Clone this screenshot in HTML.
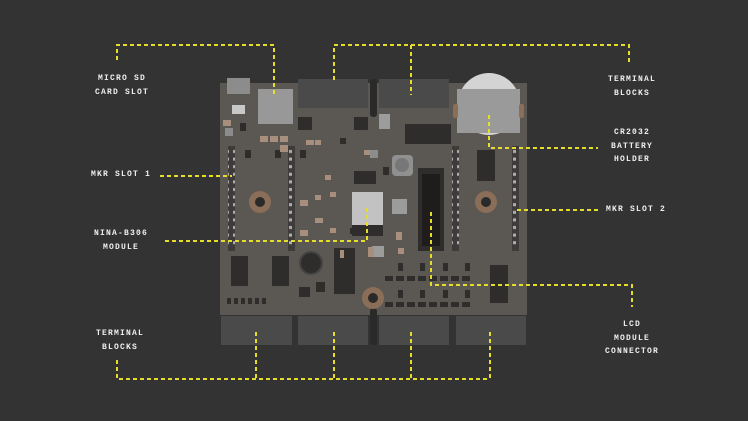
<!DOCTYPE html>
<html><head><style>
html,body{margin:0;padding:0;background:#333333;width:748px;height:421px;overflow:hidden}
.t{position:absolute;color:#f0f0f0;font-family:"Liberation Mono",monospace;font-weight:bold;font-size:8px;letter-spacing:1.2px;text-align:center;line-height:13.5px;white-space:nowrap}
</style></head><body>
<svg width="748" height="421" style="position:absolute;left:0;top:0">
<defs>
<pattern id="pins" x="0" y="148" width="7" height="7.6" patternUnits="userSpaceOnUse"><rect x="2" y="2" width="3" height="3" fill="#b0aeaa"/></pattern>
</defs>
<rect x="220" y="83" width="307" height="232" fill="#5b5854"/>
<rect x="298" y="79" width="70" height="29" fill="#4b4a4a"/>
<rect x="379" y="79" width="70" height="29" fill="#4b4a4a"/>
<rect x="370" y="79" width="7" height="38" rx="3" fill="#2a2a2a"/>
<rect x="221" y="316" width="71" height="29" fill="#4b4a4a"/>
<rect x="298" y="316" width="70" height="29" fill="#4b4a4a"/>
<rect x="379" y="316" width="70" height="29" fill="#4b4a4a"/>
<rect x="456" y="316" width="70" height="29" fill="#4b4a4a"/>
<rect x="370" y="308" width="7" height="37" rx="3" fill="#2a2a2a"/>
<rect x="227" y="78" width="23" height="16" fill="#8c8c8c"/>
<rect x="258" y="89" width="35" height="35" fill="#989898"/>
<rect x="232" y="105" width="13" height="9" fill="#c8c8c8"/>
<g fill="#3e3c3a">
<rect x="228" y="146" width="7" height="105"/><rect x="288" y="146" width="7" height="105"/>
<rect x="452" y="146" width="7" height="105"/><rect x="512" y="146" width="7" height="105"/>
</g>
<g fill="url(#pins)">
<rect x="228" y="148" width="7" height="100"/><rect x="288" y="148" width="7" height="100"/>
<rect x="452" y="148" width="7" height="100"/><rect x="512" y="148" width="7" height="100"/>
</g>
<circle cx="260" cy="202" r="11" fill="#8a6e58"/><circle cx="260" cy="202" r="5" fill="#2a2a2a"/>
<circle cx="486" cy="202" r="11" fill="#8a6e58"/><circle cx="486" cy="202" r="5" fill="#2a2a2a"/>
<circle cx="373" cy="298" r="11" fill="#8a6e58"/><circle cx="373" cy="298" r="5" fill="#2a2a2a"/>
<circle cx="489" cy="104" r="31" fill="#d4d4d4"/>
<rect x="457" y="89" width="63" height="44" fill="#9a9a9a"/>
<rect x="453" y="104" width="5" height="14" rx="2" fill="#8a6e58"/><rect x="519" y="104" width="5" height="14" rx="2" fill="#8a6e58"/>
<g fill="#2e2d2b">
<rect x="298" y="117" width="14" height="13"/><rect x="354" y="117" width="14" height="13"/>
<rect x="405" y="124" width="46" height="20"/>
<rect x="477" y="150" width="18" height="31"/>
<rect x="354" y="171" width="22" height="13"/>
<rect x="418" y="168" width="26" height="83"/>
<rect x="231" y="256" width="17" height="30"/><rect x="272" y="256" width="17" height="30"/>
<rect x="334" y="248" width="21" height="46"/>
<rect x="299" y="287" width="11" height="10"/><rect x="316" y="282" width="9" height="10"/>
<rect x="227" y="298" width="4" height="6"/><rect x="234" y="298" width="4" height="6"/><rect x="241" y="298" width="4" height="6"/><rect x="248" y="298" width="4" height="6"/><rect x="255" y="298" width="4" height="6"/><rect x="262" y="298" width="4" height="6"/>
<rect x="385" y="276" width="8" height="5"/><rect x="396" y="276" width="8" height="5"/><rect x="407" y="276" width="8" height="5"/><rect x="418" y="276" width="8" height="5"/><rect x="429" y="276" width="8" height="5"/><rect x="440" y="276" width="8" height="5"/><rect x="451" y="276" width="8" height="5"/><rect x="462" y="276" width="8" height="5"/>
<rect x="385" y="302" width="8" height="5"/><rect x="396" y="302" width="8" height="5"/><rect x="407" y="302" width="8" height="5"/><rect x="418" y="302" width="8" height="5"/><rect x="429" y="302" width="8" height="5"/><rect x="440" y="302" width="8" height="5"/><rect x="451" y="302" width="8" height="5"/><rect x="462" y="302" width="8" height="5"/>
<rect x="398" y="263" width="5" height="8"/><rect x="420" y="263" width="5" height="8"/><rect x="443" y="263" width="5" height="8"/><rect x="465" y="263" width="5" height="8"/>
<rect x="398" y="290" width="5" height="8"/><rect x="420" y="290" width="5" height="8"/><rect x="443" y="290" width="5" height="8"/><rect x="465" y="290" width="5" height="8"/>
<rect x="490" y="265" width="18" height="38"/>
<rect x="245" y="150" width="6" height="8"/><rect x="275" y="150" width="6" height="8"/>
<rect x="383" y="167" width="6" height="8"/><rect x="350" y="228" width="6" height="6"/>
<rect x="240" y="123" width="6" height="8"/><rect x="300" y="150" width="6" height="8"/><rect x="340" y="138" width="6" height="6"/>
</g>
<rect x="422" y="174" width="18" height="72" fill="#1e1d1c"/>
<rect x="352" y="192" width="31" height="33" fill="#c2c2c2"/>
<rect x="352" y="225" width="31" height="11" fill="#2e2d2b"/>
<rect x="392" y="199" width="15" height="15" fill="#9c9c9c"/>
<rect x="379" y="114" width="11" height="15" fill="#9c9c9c"/>
<rect x="225" y="128" width="8" height="8" fill="#8c8c8c"/>
<rect x="370" y="150" width="8" height="8" fill="#8c8c8c"/>
<rect x="392" y="155" width="21" height="21" rx="4" fill="#909090"/><circle cx="402" cy="165" r="7" fill="#777"/>
<rect x="372" y="246" width="12" height="11" fill="#9c9c9c"/>
<circle cx="311" cy="263" r="11" fill="#2e2d2b" stroke="#444" stroke-width="2"/>
<g fill="#a88e7c">
<rect x="223" y="120" width="8" height="6"/><rect x="260" y="136" width="8" height="6"/><rect x="270" y="136" width="8" height="6"/><rect x="280" y="136" width="8" height="6"/><rect x="280" y="145" width="8" height="7"/>
<rect x="300" y="200" width="8" height="6"/><rect x="300" y="230" width="8" height="6"/><rect x="315" y="218" width="8" height="5"/>
<rect x="368" y="247" width="6" height="10"/><rect x="396" y="232" width="6" height="8"/>
<rect x="340" y="250" width="4" height="8"/>
<rect x="306" y="140" width="8" height="5"/><rect x="364" y="150" width="6" height="5"/>
<rect x="315" y="140" width="6" height="5"/><rect x="330" y="192" width="6" height="5"/><rect x="315" y="195" width="6" height="5"/><rect x="325" y="175" width="6" height="5"/>
<rect x="330" y="228" width="6" height="5"/><rect x="398" y="248" width="6" height="6"/>
</g>
<g fill="none" stroke="#e6dd2a" stroke-width="2" stroke-dasharray="4,3">
<polyline points="117,60 117,45 274,45 274,95"/>
<polyline points="334,80 334,45 629,45 629,65"/>
<polyline points="411,45 411,95"/>
<polyline points="489,115 489,148 598,148"/>
<polyline points="160,176 232,176"/>
<polyline points="517,210 598,210"/>
<polyline points="165,241 367,241 367,208"/>
<polyline points="431,212 431,285 632,285 632,307"/>
<polyline points="117,360 117,379 490,379"/>
<polyline points="256,332 256,379"/><polyline points="334,332 334,379"/>
<polyline points="411,332 411,379"/><polyline points="490,332 490,379"/>
</g>
</svg>
<div class="t" style="left:82px;top:72px;width:80px">MICRO SD<br>CARD SLOT</div>
<div class="t" style="left:592px;top:73px;width:80px">TERMINAL<br>BLOCKS</div>
<div class="t" style="left:592px;top:126px;width:80px">CR2032<br>BATTERY<br>HOLDER</div>
<div class="t" style="left:81px;top:168px;width:80px">MKR SLOT 1</div>
<div class="t" style="left:596px;top:203px;width:80px">MKR SLOT 2</div>
<div class="t" style="left:81px;top:227px;width:80px">NINA-B306<br>MODULE</div>
<div class="t" style="left:80px;top:327px;width:80px">TERMINAL<br>BLOCKS</div>
<div class="t" style="left:592px;top:318px;width:80px">LCD<br>MODULE<br>CONNECTOR</div>
</body></html>
